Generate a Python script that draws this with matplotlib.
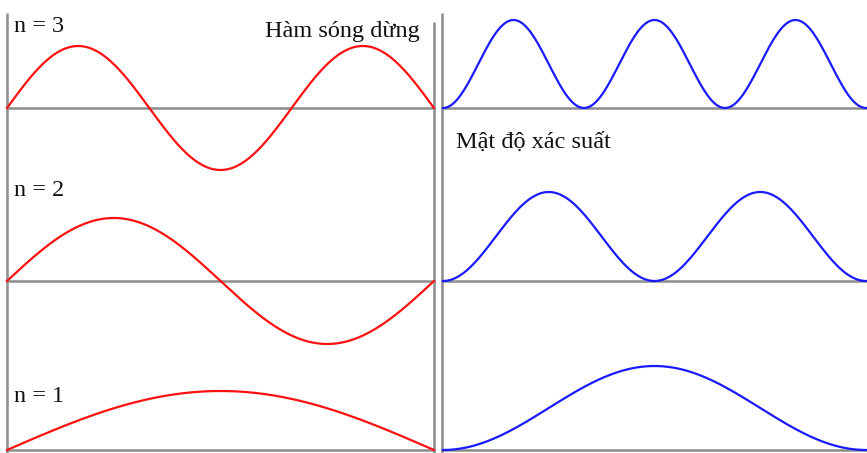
import numpy as np
import matplotlib.pyplot as plt

# mode numbers and peak heights (pixels)
modes = [3, 2, 1]
wave_amp = [62, 63, 59]
dens_amp = [88, 89, 84]
baselines = [108, 281, 450]
labels = ["n = 3", "n = 2", "n = 1"]
label_y = [27, 190, 397]

fig = plt.figure(figsize=(8.67, 4.53), dpi=100)
ax = fig.add_axes([0, 0, 1, 1])
ax.set_xlim(0, 867)
ax.set_ylim(453, 0)
ax.axis("off")

gray = "#8c8c8c"
# frame lines
for x, top in [(7, 13), (434, 22), (442, 13)]:
    ax.plot([x, x], [top, 453], color=gray, lw=1.8, solid_capstyle="butt")
for b in baselines:
    ax.plot([7, 434], [b, b], color=gray, lw=1.8)
    ax.plot([442, 867], [b, b], color=gray, lw=1.8)

t = np.linspace(0, 1, 400)
left_x = 7 + t * (434 - 7)
right_x = 443 + t * (866 - 443)
for n, a, d, b in zip(modes, wave_amp, dens_amp, baselines):
    psi = np.sin(n * np.pi * t)
    ax.plot(left_x, b - a * psi, color="#ff1010", lw=1.6)
    ax.plot(right_x, b - d * psi ** 2, color="#1a1aff", lw=1.6)

font = dict(family="Liberation Serif", fontsize=17.5, color="#111111")
for lab, y in zip(labels, label_y):
    ax.text(14, y, lab, va="center", ha="left", **font)
ax.text(420, 31, "Hàm sóng dừng", va="center", ha="right", **font)
ax.text(456, 142, "Mật độ xác suất", va="center", ha="left", **font)

fig.savefig("out.png", dpi=100)
